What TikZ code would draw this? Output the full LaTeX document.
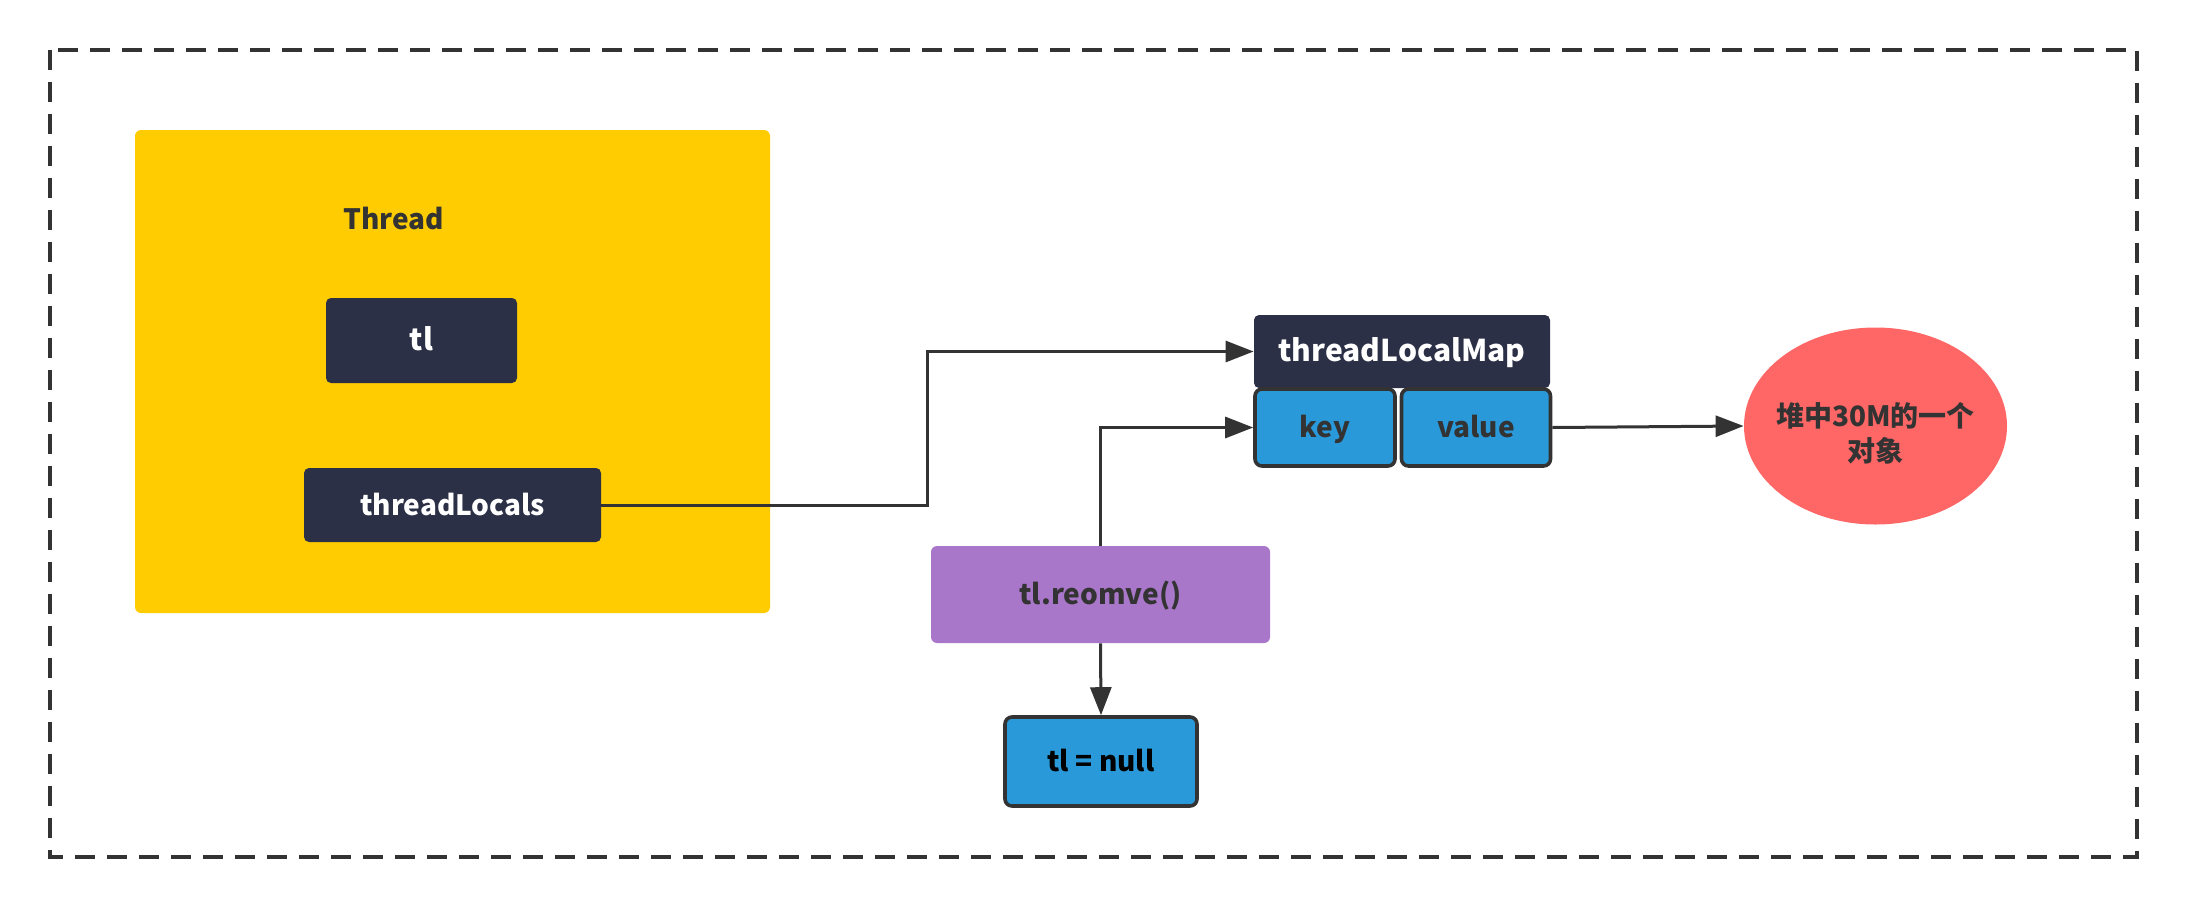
\documentclass[tikz,border=0pt]{standalone}
\usepackage{fontspec}
\setmainfont{Noto Sans CJK SC}
\usetikzlibrary{arrows.meta,shapes.geometric}
\definecolor{ylw}{HTML}{FECC00}
\definecolor{navy}{HTML}{2C3046}
\definecolor{blu}{HTML}{2999DA}
\definecolor{prp}{HTML}{A977C9}
\definecolor{coral}{HTML}{FF6666}
\definecolor{ink}{HTML}{333333}
\tikzset{
  every node/.style={font=\bfseries\fontsize{14}{17.5}\selectfont},
  lbl/.style={text height=1.2em,text depth=0.2em},
  darkbox/.style={lbl,fill=navy,text=white,rounded corners=2.5pt,inner sep=0pt},
  bluebox/.style={lbl,fill=blu,draw=ink,line width=1.8pt,text=ink,rounded corners=3.5pt,inner sep=0pt},
  conn/.style={draw=ink,line width=1.5pt},
  arr/.style={conn,-{Triangle[length=14pt,width=10.5pt]}},
}
\begin{document}
\begin{tikzpicture}[x=0.5pt,y=-0.5pt]
\useasboundingbox (0,0) rectangle (2186,906);
\draw[ink,line width=1.7pt,dash pattern=on 10pt off 6pt] (50,50) rectangle (2137,857);
\node[fill=ylw,rounded corners=3pt,minimum width=317.5pt,minimum height=241.5pt,inner sep=0pt] (thread) at (452.5,371.5) {};
\node[lbl,text=ink] (threadlbl) at (394,219) {Thread};
\node[darkbox,minimum width=95.5pt,minimum height=42.5pt,font=\bfseries\fontsize{15}{18}\selectfont] (tl) at (421.5,340.5) {tl};
\node[darkbox,minimum width=148.5pt,minimum height=37pt] (tls) at (452.5,505) {threadLocals};
\node[darkbox,minimum width=148pt,minimum height=36.5pt,font=\bfseries\fontsize{15}{18}\selectfont] (tlm) at (1402,351.5) {threadLocalMap};
\node[bluebox,minimum width=70pt,minimum height=38.5pt] (key) at (1325,427.5) {key};
\node[bluebox,minimum width=74.5pt,minimum height=38.5pt] (val) at (1476,427.5) {value};
\node[ellipse,fill=coral,minimum width=131.5pt,minimum height=98.5pt,inner sep=0pt] (obj) at (1875.5,426) {};
\node[text=ink,align=center,inner sep=0pt,yshift=-3.5pt] (objtxt) at (obj.center) {堆中30M的一个\\对象};
\node[lbl,fill=prp,text=ink,rounded corners=3pt,minimum width=169.5pt,minimum height=48.5pt,inner sep=0pt] (rm) at (1100.5,594.5) {tl.reomve()};
\node[bluebox,text=black,minimum width=96pt,minimum height=44.5pt] (null) at (1101,761.5) {tl = null};
\coordinate (bend) at (927,505);
\draw[arr] (tls.east) -- (bend) |- (tlm.west);
\draw[arr] (rm.north) |- (key.west);
\draw[arr] (rm.south) -- (null.north);
\draw[arr] (val.east) -- (obj.west);
\end{tikzpicture}
\end{document}
